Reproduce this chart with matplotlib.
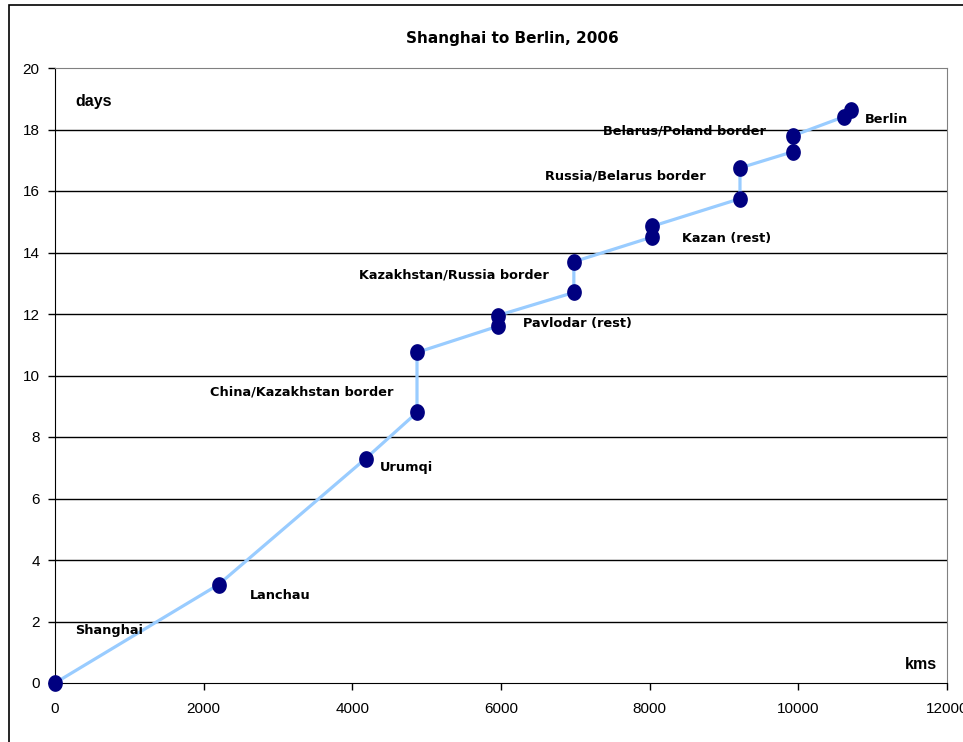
import numpy as np
import matplotlib.pyplot as plt
from matplotlib.path import Path
from matplotlib.patches import Rectangle

# cumulative distance (km) and elapsed time (days) along the route
kms = [0, 2200, 4180, 4870, 4870, 5955, 5955, 6980, 6980, 8030, 8030,
       9215, 9215, 9930, 9930, 10620, 10715]
days = [0, 3.2, 7.3, 8.8, 10.75, 11.6, 11.95, 12.7, 13.7, 14.5, 14.85,
        15.75, 16.75, 17.28, 17.8, 18.42, 18.63]

place_names = ['Shanghai', 'Lanchau', 'Urumqi', 'China/Kazakhstan border',
               'Pavlodar (rest)', 'Kazakhstan/Russia border', 'Kazan (rest)',
               'Russia/Belarus border', 'Belarus/Poland border', 'Berlin']
label_x = [270, 2615, 4370, 2090, 6295, 4085, 8440, 6590, 7370, 10890]
label_y = [1.72, 2.86, 7.0, 9.46, 11.7, 13.27, 14.47, 16.49, 17.95, 18.31]

x_ticks = [0, 2000, 4000, 6000, 8000, 10000, 12000]
y_ticks = [0, 2, 4, 6, 8, 10, 12, 14, 16, 18, 20]

fig = plt.figure(figsize=(9.63, 7.42), dpi=100)
ax = fig.add_axes([55 / 963, 59 / 742, 892 / 963, 615 / 742])

# chart frame, cut by the right and bottom of the image
fig.patches.append(Rectangle((9 / 963, -0.1), 1.2, 1.1 - 5 / 742,
                             transform=fig.transFigure, fill=False,
                             edgecolor='black', linewidth=1.2))

# slightly tall ellipse, like the spreadsheet markers
t = np.linspace(0, 2 * np.pi, 60)
ellipse = Path(np.column_stack([0.87 * np.cos(t), np.sin(t)]), closed=True)

ax.plot(kms, days, color='#99CCFF', linewidth=2.3, zorder=3, clip_on=False)
ax.plot(kms, days, linestyle='none', marker=ellipse, markersize=11,
        color='#000080', zorder=4, clip_on=False)

ax.set_xlim(0, 12000)
ax.set_ylim(0, 20)
ax.set_xticks(x_ticks)
ax.set_yticks(y_ticks)
ax.set_xticklabels([str(v) for v in x_ticks], family='Liberation Sans', fontsize=11)
ax.set_yticklabels([str(v) for v in y_ticks], family='Liberation Sans', fontsize=11)
ax.tick_params(axis='both', direction='out', length=5, width=1, pad=6)
ax.tick_params(axis='x', pad=9)

for y in y_ticks[1:-1]:
    ax.axhline(y, color='black', linewidth=1, zorder=1)

ax.spines['top'].set_color('#808080')
ax.spines['right'].set_color('#808080')
ax.spines['left'].set_color('black')
ax.spines['bottom'].set_color('black')

for name, lx, ly in zip(place_names, label_x, label_y):
    ax.text(lx, ly, name, fontsize=9.3, fontweight='bold', family='DejaVu Sans',
            ha='left', va='center', color='black', zorder=5)

ax.text(270, 18.9, 'days', fontsize=11.5, fontweight='bold',
        family='Liberation Sans', ha='left', va='center')
ax.text(11860, 0.6, 'kms', fontsize=11.5, fontweight='bold',
        family='Liberation Sans', ha='right', va='center')

fig.text(512 / 963, 1 - 38 / 742, 'Shanghai to Berlin, 2006', fontsize=11,
         fontweight='bold', family='DejaVu Sans', ha='center', va='center')

fig.savefig('out.png', dpi=100)
